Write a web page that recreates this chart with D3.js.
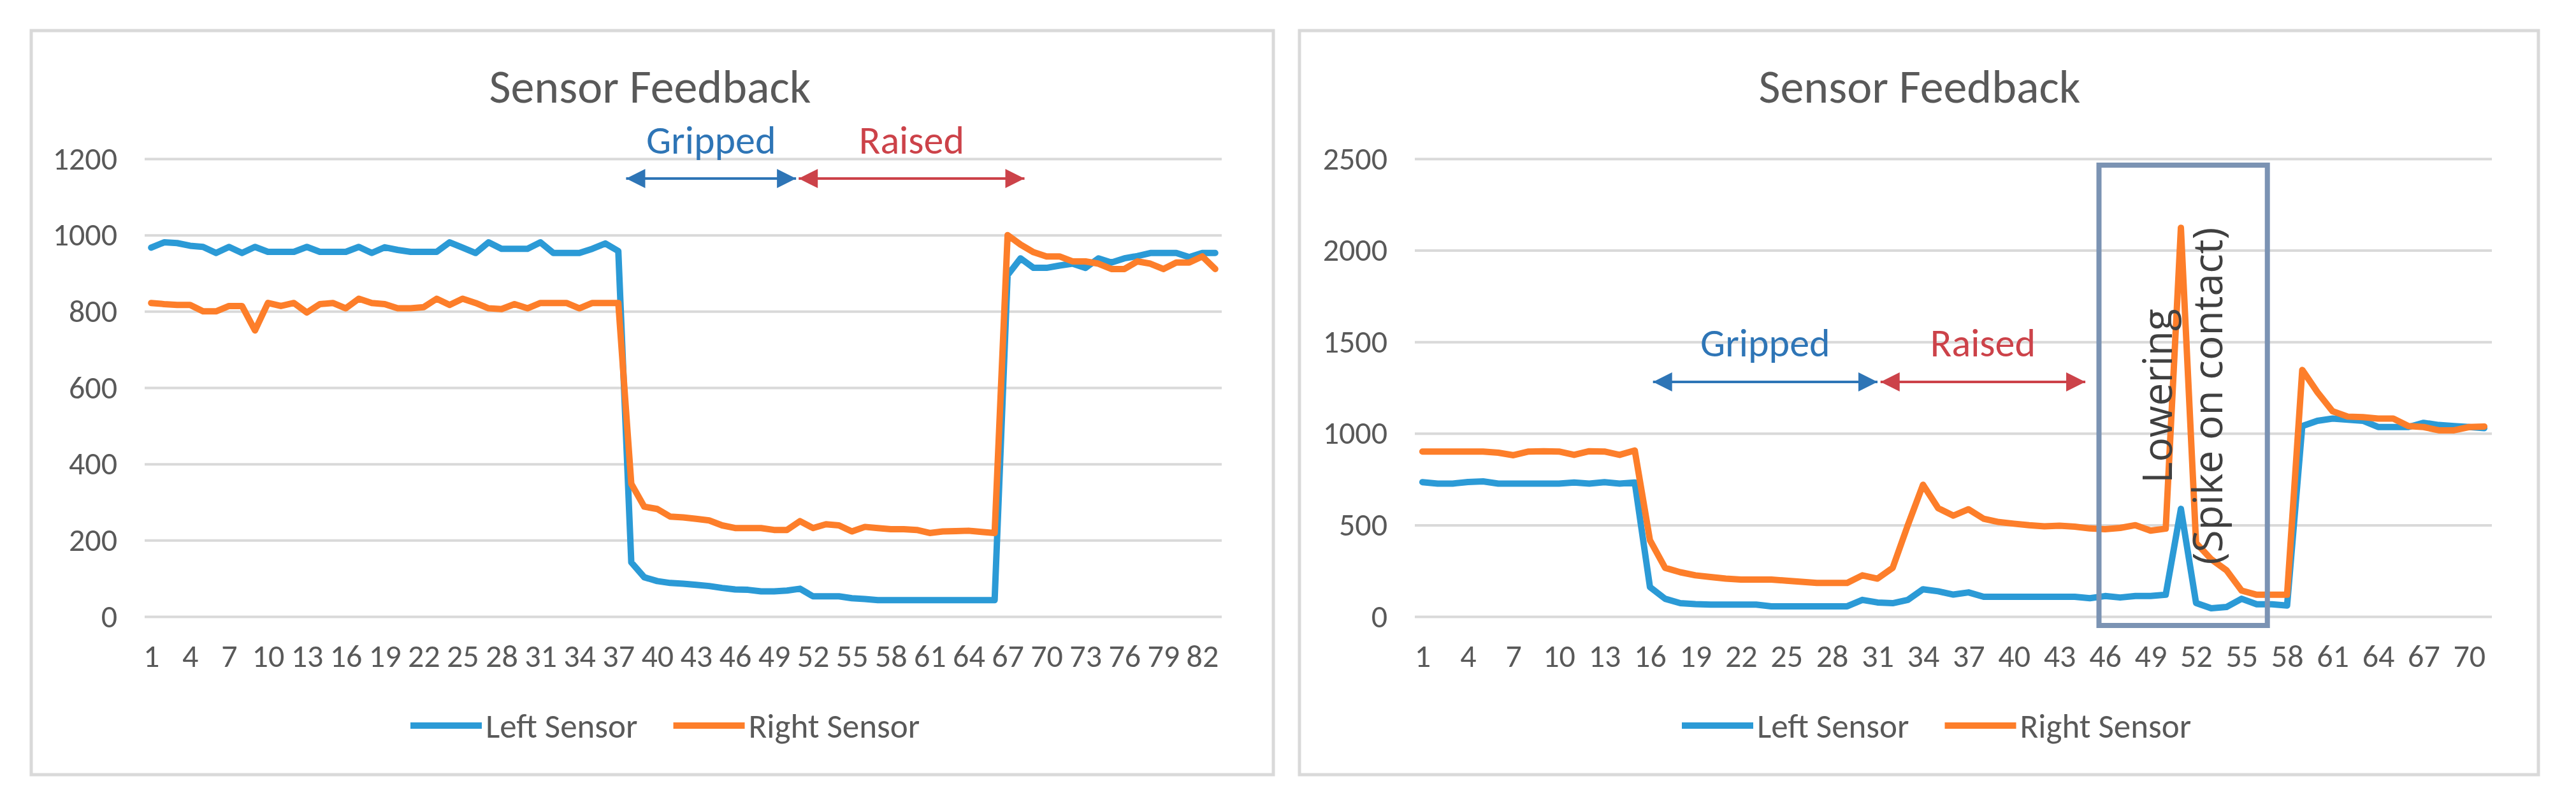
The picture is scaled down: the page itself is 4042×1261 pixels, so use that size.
<!DOCTYPE html>
<html>
<head>
<meta charset="utf-8">
<script src="https://cdn.jsdelivr.net/npm/d3@7"></script>
<style>
  html, body { margin: 0; padding: 0; background: #fff; }
  svg { display: block; }
  text { font-family: Carlito, "Liberation Sans Narrow", "Liberation Sans", sans-serif; fill: #595959; }
</style>
</head>
<body>
<svg id="chart" width="4042" height="1261"></svg>
<script>
// ---- data ----
const seriesNames = ["Left Sensor", "Right Sensor"];

// chart A (left): 83 samples
const leftSensorA = [
  967, 981, 979, 972, 969, 953, 969, 953, 969, 956, 956, 956, 969, 956, 956, 956, 969, 953, 968, 961,
  956, 956, 956, 981, 967, 953, 981, 964, 964, 964, 981, 953, 953, 953, 964, 978, 958,
  142, 103, 93, 88, 86, 83, 80, 75, 71, 70, 66, 66, 68, 73, 53, 53, 53, 48, 46, 43, 43, 43, 43, 43,
  43, 43, 43, 43, 43,
  895, 939, 914, 914, 920, 925, 914, 939, 928, 939, 945, 953, 953, 953, 942, 953, 953
];
const rightSensorA = [
  822, 819, 817, 817, 800, 800, 814, 814, 750, 822, 814, 822, 797, 819, 822, 808, 833, 822, 819, 808,
  808, 811, 833, 817, 833, 822, 808, 806, 819, 808, 822, 822, 822, 808, 822, 822, 822,
  348, 288, 282, 262, 260, 256, 252, 239, 232, 232, 232, 227, 227, 250, 232, 242, 239, 223, 235, 232,
  229, 229, 227, 219, 223, 224, 225, 222, 219,
  1000, 975, 955, 944, 944, 931, 931, 925, 911, 911, 931, 925, 911, 928, 928, 944, 911
];

// chart B (right): 71 samples
const leftSensorB = [
  734, 726, 726, 735, 738, 726, 726, 726, 726, 726, 732, 726, 734, 726, 732,
  161, 97, 73, 68, 65, 65, 65, 65, 56, 56, 56, 56, 56, 56, 91, 77, 73, 91, 149, 138, 120, 132,
  108, 108, 108, 108, 108, 108, 108, 100,
  112, 104, 112, 112, 119, 588, 74, 45, 52, 97, 67, 67, 60,
  1040, 1069, 1081, 1075, 1069, 1035, 1035, 1035, 1058, 1046, 1040, 1035, 1029
];
const rightSensorB = [
  901, 901, 901, 901, 901, 895, 881, 901, 903, 901, 883, 903, 901, 883, 907,
  417, 266, 242, 225, 216, 207, 202, 202, 202, 196, 190, 184, 184, 184, 225, 207, 266, 499, 720, 592,
  551, 586, 534, 516, 507, 499, 493, 496, 491, 481,
  477, 484, 499, 469, 480, 2123, 402, 313, 253, 142, 119, 119, 119,
  1347, 1225, 1121, 1092, 1089, 1081, 1081, 1040, 1035, 1017, 1017, 1035, 1038
];

const yTicksA = [0, 200, 400, 600, 800, 1000, 1200];
const yTicksB = [0, 500, 1000, 1500, 2000, 2500];

// phase annotations: [label, from sample, to sample]
const phasesA = [["Gripped", 37.6, 50.7], ["Raised", 50.9, 68.3]];
const phasesB = [["Gripped", 16.2, 31.0], ["Raised", 31.2, 44.7]];
const lowerBoxB = { from: 45.6, to: 56.7, lines: ["Lowering", "(Spike on contact)"] };

// ---- layout ----
const colors = ["#2b9ad6", "#fd7e2a"];
const phaseColors = { Gripped: "#2e75b6", Raised: "#cc4249" };
const textGrey = "#595959";

const svg = d3.select("#chart");

const panels = [
  { frame: [49, 48, 1998, 1215], plot: [227, 249, 1917, 967], title: 1020, legendX: 644,
    series: [leftSensorA, rightSensorA], yTicks: yTicksA, phases: phasesA, phaseY: 280, phaseTextY: 241 },
  { frame: [2039, 48, 3983, 1215], plot: [2220, 249, 3910, 967], title: 3012, legendX: 2639,
    series: [leftSensorB, rightSensorB], yTicks: yTicksB, phases: phasesB, phaseY: 599, phaseTextY: 559,
    box: lowerBoxB }
];

// arrowhead markers
const defs = svg.append("defs");
Object.entries(phaseColors).forEach(([k, c]) => {
  ["start", "end"].forEach(side => {
    defs.append("marker")
      .attr("id", `arrow-${k}-${side}`)
      .attr("viewBox", "0 0 10 10")
      .attr("refX", side === "end" ? 10 : 0)
      .attr("refY", 5)
      .attr("markerUnits", "userSpaceOnUse")
      .attr("markerWidth", 32)
      .attr("markerHeight", 30)
      .attr("orient", "auto")
      .append("path")
      .attr("d", side === "end" ? "M0,0 L10,5 L0,10 Z" : "M10,0 L0,5 L10,10 Z")
      .attr("fill", c);
  });
});

panels.forEach(p => {
  const [fx0, fy0, fx1, fy1] = p.frame;
  const [px0, py0, px1, py1] = p.plot;
  const n = p.series[0].length;

  svg.append("rect")
    .attr("x", fx0).attr("y", fy0)
    .attr("width", fx1 - fx0).attr("height", fy1 - fy0)
    .attr("fill", "#fff")
    .attr("stroke", "#d9d9d9")
    .attr("stroke-width", 5);

  const g = svg.append("g").attr("transform", `translate(${px0},${py0})`);
  const w = px1 - px0, h = py1 - py0;

  const x = d3.scaleLinear().domain([0.5, n + 0.5]).range([0, w]);
  const y = d3.scaleLinear().domain([0, d3.max(p.yTicks)]).range([h, 0]);

  // gridlines + y labels
  const yAxis = g.append("g")
    .call(d3.axisLeft(y).tickValues(p.yTicks).tickSize(-w).tickPadding(43).tickFormat(d3.format("d")));
  yAxis.select(".domain").remove();
  yAxis.selectAll(".tick line").attr("stroke", "#d9d9d9").attr("stroke-width", 4);
  yAxis.selectAll(".tick text").attr("fill", textGrey).style("font-size", "50px");

  // category labels every 3rd sample
  const xTicks = d3.range(1, n + 1, 3);
  const xAxis = g.append("g")
    .attr("transform", `translate(0,${h})`)
    .call(d3.axisBottom(x).tickValues(xTicks).tickSize(0).tickPadding(43).tickFormat(d3.format("d")));
  xAxis.select(".domain").remove();
  xAxis.selectAll(".tick text").attr("fill", textGrey).style("font-size", "50px");

  // series lines
  const line = d3.line().x((d, i) => x(i + 1)).y(d => y(d));
  p.series.forEach((vals, k) => {
    g.append("path")
      .datum(vals)
      .attr("fill", "none")
      .attr("stroke", colors[k])
      .attr("stroke-width", 10)
      .attr("stroke-linejoin", "round")
      .attr("stroke-linecap", "round")
      .attr("d", line);
  });

  // phase arrows
  p.phases.forEach(([label, a, b]) => {
    const c = phaseColors[label];
    svg.append("line")
      .attr("x1", px0 + x(a)).attr("x2", px0 + x(b))
      .attr("y1", p.phaseY).attr("y2", p.phaseY)
      .attr("stroke", c).attr("stroke-width", 4)
      .attr("marker-start", `url(#arrow-${label}-start)`)
      .attr("marker-end", `url(#arrow-${label}-end)`);
    svg.append("text")
      .attr("x", px0 + x((a + b) / 2)).attr("y", p.phaseTextY)
      .attr("text-anchor", "middle")
      .style("font-size", "62px")
      .style("fill", c)
      .text(label);
  });

  // lowering box
  if (p.box) {
    const bx0 = px0 + x(p.box.from), bx1 = px0 + x(p.box.to);
    svg.append("rect")
      .attr("x", bx0).attr("y", 259)
      .attr("width", bx1 - bx0).attr("height", 981 - 259)
      .attr("fill", "none")
      .attr("stroke", "#7b93b3")
      .attr("stroke-width", 8);
    const t = svg.append("text")
      .attr("transform", `translate(${3408},${621}) rotate(-90)`)
      .attr("text-anchor", "middle")
      .style("font-family", "'Open Sans', sans-serif")
      .style("font-size", "64px")
      .style("fill", "#404040");
    p.box.lines.forEach((s, i) => {
      t.append("tspan").attr("x", 0).attr("dy", i === 0 ? 0 : 79).text(s);
    });
  }

  // title
  svg.append("text")
    .attr("x", p.title).attr("y", 161)
    .attr("text-anchor", "middle")
    .style("font-size", "74px")
    .style("fill", textGrey)
    .text("Sensor Feedback");

  // legend
  const lg = svg.append("g").attr("transform", `translate(${p.legendX},1138)`);
  let off = 0;
  seriesNames.forEach((name, k) => {
    lg.append("line")
      .attr("x1", off).attr("x2", off + 112)
      .attr("stroke", colors[k]).attr("stroke-width", 10);
    const tx = lg.append("text")
      .attr("x", off + 118).attr("y", 0).attr("dy", "0.35em")
      .style("font-size", "53px")
      .style("fill", textGrey)
      .text(name);
    off += 118 + tx.node().getComputedTextLength() + 56;
  });
});
</script>
</body>
</html>
